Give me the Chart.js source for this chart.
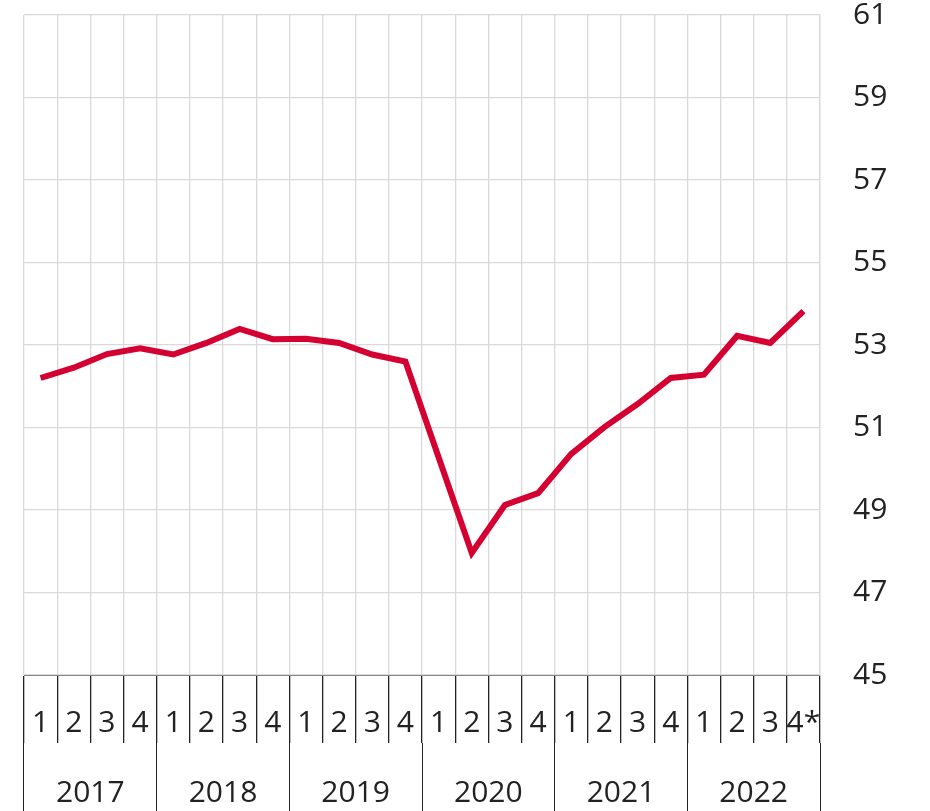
<!DOCTYPE html>
<html>
<head>
<meta charset="utf-8">
<script src="https://cdn.jsdelivr.net/npm/chart.js@4.4.1/dist/chart.umd.min.js"></script>
<style>
  body { margin: 0; background: #fff; }
  #wrap { width: 930px; height: 811px; }
</style>
</head>
<body>
<div id="wrap"><canvas id="chart" width="930" height="811"></canvas></div>
<script>
// Quarterly index, 2017 Q1 - 2022 Q4 (preliminary)
const quarterLabels = ['1', '2', '3', '4', '1', '2', '3', '4', '1', '2', '3', '4',
    '1', '2', '3', '4', '1', '2', '3', '4', '1', '2', '3', '4*'];
const yearLabels = ['2017', '2018', '2019', '2020', '2021', '2022'];
const values = [
    52.2, 52.45, 52.78, 52.92, 52.77, 53.05, 53.39, 53.14, 53.15, 53.05, 52.77, 52.6,
    50.28, 47.96, 49.12, 49.41, 50.36, 51.01, 51.57, 52.2, 52.28, 53.22, 53.05, 53.82
];
const yMin = 45;
const yMax = 61;
const yStep = 2;

const font = { family: '"Open Sans", "Noto Sans", sans-serif', size: 30 };

new Chart(document.getElementById('chart'), {
    type: 'line',
    data: {
        labels: quarterLabels,
        datasets: [{
            data: values,
            xAxisID: 'x',
            borderColor: '#d50032',
            borderWidth: 6,
            borderJoinStyle: 'miter',
            pointRadius: 0,
            tension: 0,
            fill: false
        }]
    },
    options: {
        responsive: false,
        animation: false,
        layout: { padding: { left: 24, right: 0, top: 0, bottom: 0 } },
        plugins: {
            legend: { display: false },
            tooltip: { enabled: false }
        },
        scales: {
            x: {
                type: 'category',
                position: 'bottom',
                offset: true,
                grid: {
                    offset: true,
                    color: '#d9d9d9',
                    lineWidth: 1.3,
                    tickColor: '#222222',
                    tickLength: 68
                },
                border: { display: true, color: '#888888', width: 1 },
                ticks: {
                    color: '#222222',
                    font: font,
                    padding: -38,
                    autoSkip: false,
                    maxRotation: 0
                },
                afterFit: (scale) => { scale.height = 68; }
            },
            x2: {
                type: 'category',
                position: 'bottom',
                labels: yearLabels,
                offset: true,
                grid: {
                    offset: true,
                    drawOnChartArea: false,
                    tickColor: '#222222',
                    tickLength: 68
                },
                border: { display: false },
                ticks: {
                    color: '#222222',
                    font: font,
                    padding: -36,
                    autoSkip: false,
                    maxRotation: 0
                },
                afterFit: (scale) => { scale.height = 68; }
            },
            y: {
                position: 'right',
                min: yMin,
                max: yMax,
                grid: {
                    color: '#d9d9d9',
                    lineWidth: 1.3,
                    tickColor: 'rgba(0,0,0,0)',
                    tickLength: 33
                },
                border: { display: true, color: '#d9d9d9', width: 1.3 },
                ticks: {
                    stepSize: yStep,
                    color: '#222222',
                    font: { family: font.family, size: 30, lineHeight: 1 },
                    padding: 0
                },
                afterFit: (scale) => { scale.width = 110; }
            }
        }
    }
});
</script>
</body>
</html>
